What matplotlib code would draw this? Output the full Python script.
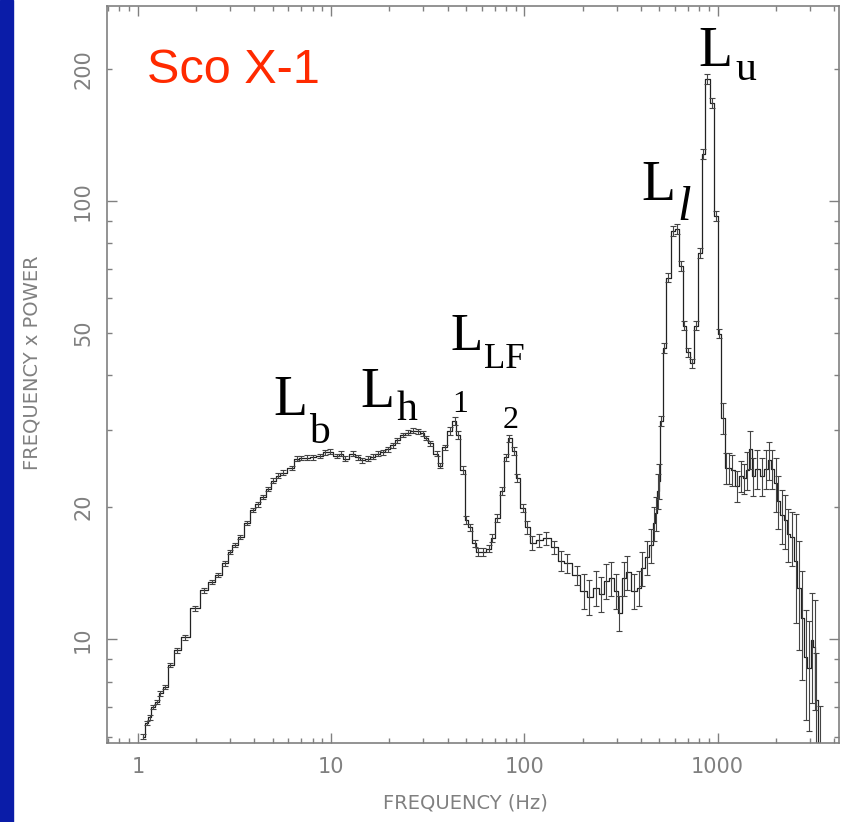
import numpy as np
import matplotlib.pyplot as plt
from matplotlib.ticker import FixedLocator, FixedFormatter, NullFormatter
from matplotlib.patches import Rectangle

# power spectrum of Sco X-1 (frequency x power)
freq = [1.06, 1.11, 1.15, 1.195, 1.25, 1.30, 1.38, 1.46, 1.59, 1.75,
        1.97, 2.19, 2.41, 2.59, 2.82, 2.99, 3.17, 3.37, 3.66, 3.93,
        4.17, 4.43, 4.7, 4.99, 5.3, 5.61, 6.25, 6.63, 7.0, 7.47,
        8.0, 8.72, 9.3, 9.82, 10.67, 11.2, 11.74, 12.9, 13.7, 14.5,
        15.4, 16.4, 17.4, 18.5, 19.6, 20.8, 22.0, 23.4, 24.9, 26.4,
        28.0, 29.7, 31.0, 32.3, 35.1, 36.4, 38.6, 41.0, 43.5, 45.1,
        47.8, 50.1, 52.0, 55.2, 57.2, 60.7, 65.9, 68.3, 72.5, 76.9,
        80.7, 83.6, 88.7, 92.0, 97.7, 103.6, 110, 119.5, 130, 143,
        155, 167, 186, 204, 217, 236, 250, 265, 282, 299,
        310, 329, 341, 370, 393, 407, 432, 453, 470, 481,
        493, 499, 511, 529, 555, 589, 618, 648, 671, 704,
        738, 774, 812, 842, 883, 937, 982, 1018, 1068, 1107,
        1147, 1188, 1262, 1322, 1371, 1421, 1472, 1526, 1600, 1698,
        1781, 1846, 1913, 2006, 2054, 2154, 2233, 2313, 2425, 2545,
        2637, 2735, 2867, 2972, 3080, 3190, 3230, 3390]
power = [6.0, 6.44, 6.64, 7.0, 7.19, 7.53, 7.78, 8.73, 9.44, 10.1,
         11.77, 12.93, 13.5, 14.0, 14.9, 15.8, 16.4, 17.1, 18.4, 19.7,
         20.3, 21.1, 22.0, 23.0, 23.6, 24.0, 24.6, 25.8, 25.9, 25.95,
         26.0, 26.2, 26.7, 26.8, 26.2, 26.5, 25.8, 26.5, 26.0, 25.6,
         25.8, 26.1, 26.5, 26.7, 27.1, 27.7, 28.4, 29.2, 29.6, 29.9,
         29.8, 29.5, 28.8, 27.96, 26.5, 24.9, 27.4, 29.9, 31.5, 29.2,
         24.3, 18.7, 18.0, 16.55, 15.8, 15.8, 16.1, 17.0, 18.9, 21.8,
         26.0, 28.7, 26.9, 23.3, 19.9, 18.0, 16.6, 16.8, 17.0, 16.2,
         15.1, 14.9, 14.0, 12.9, 12.5, 13.1, 12.7, 13.6, 13.8, 12.9,
         11.5, 13.8, 14.2, 12.9, 13.1, 14.5, 15.4, 16.4, 18.4, 19.4,
         21.8, 23.0, 31.5, 46.2, 66.8, 85.4, 86.3, 71.1, 51.9, 45.1,
         42.6, 51.9, 76.1, 127.9, 189.7, 167.2, 92.4, 49.8, 32.0, 24.6,
         24.6, 24.3, 22.4, 23.6, 23.3, 24.3, 27.2, 23.6, 24.5, 23.6,
         24.5, 25.6, 24.5, 22.7, 20.7, 19.2, 18.7, 17.4, 17.1, 15.1,
         13.1, 11.2, 9.1, 8.6, 9.95, 9.6, 7.26, 5.5]
# relative size of the error bars, by frequency band
err_band_hz = [40, 100, 150, 200, 500, 1050, 1400, 2000, 2500]
err_frac = [0.012, 0.02, 0.035, 0.05, 0.09, 0.025, 0.08, 0.10, 0.14, 0.28]

freq = np.array(freq)
power = np.array(power)
rel = np.array(err_frac)[np.searchsorted(err_band_hz, freq)]
yerr = power * rel

fig = plt.figure(figsize=(8.43, 8.22), dpi=100)
ax = fig.add_axes([107/843, 1 - 743/822, 732/843, 737/822])

# blue strip on the left edge
fig.patches.append(Rectangle((0, 0), 13/843, 1, transform=fig.transFigure,
                             color='#0a1ca8', zorder=0))

ax.step(freq, power, where='mid', color='#222222', lw=0.9)
ax.errorbar(freq, power, yerr=yerr, fmt='none', ecolor='#444444',
            elinewidth=0.8, capsize=2.2, capthick=0.8)

ax.set_xscale('log')
ax.set_yscale('log')
ax.set_xlim(0.69, 4250)
ax.set_ylim(5.8, 278)

gray = '#808080'
for s in ax.spines.values():
    s.set_color(gray)
    s.set_linewidth(1.2)

ax.xaxis.set_major_locator(FixedLocator([1, 10, 100, 1000]))
ax.xaxis.set_major_formatter(FixedFormatter(['1', '10', '100', '1000']))
xminor = [m * d for d in [0.1, 1, 10, 100, 1000] for m in range(2, 10)]
ax.xaxis.set_minor_locator(FixedLocator(xminor))
ax.xaxis.set_minor_formatter(NullFormatter())

ax.yaxis.set_major_locator(FixedLocator([10, 100]))
ax.yaxis.set_major_formatter(FixedFormatter(['10', '100']))
yminor = [6, 7, 8, 9, 20, 30, 40, 50, 60, 70, 80, 90, 200]
ax.yaxis.set_minor_locator(FixedLocator(yminor))
ax.yaxis.set_minor_formatter(FixedFormatter(['', '', '', '', '20', '', '', '50',
                                             '', '', '', '', '200']))

ax.tick_params(which='both', direction='in', top=True, right=True,
               color=gray, width=1, labelcolor=gray, labelsize=15)
ax.tick_params(which='major', length=7.5)
ax.tick_params(which='minor', length=3.8)
ax.tick_params(axis='x', which='both', pad=10)
ax.tick_params(axis='y', which='both', pad=10)
for lab in ax.get_yticklabels(which='both'):
    lab.set_rotation(90)
    lab.set_va('center')

fig.text(465/843, 1 - 803/822, 'FREQUENCY (Hz)', color=gray, fontsize=14,
         ha='center', va='center')
fig.text(32/843, 1 - 363/822, 'FREQUENCY x POWER', color=gray, fontsize=14,
         ha='center', va='center', rotation=90)


def px(x, y):
    return (x - 107) / 732, (743 - y) / 737


ax.text(*px(147, 83), 'Sco X-1', transform=ax.transAxes,
        color='#ff2a00', fontsize=35, family='Liberation Sans', va='baseline')

serif = 'Liberation Serif'
# (text, left x px, baseline y px, size, style)
labels = [('L', 273, 415, 40, 'normal'), ('b', 309, 443, 30, 'normal'),
          ('L', 360, 407, 40, 'normal'), ('h', 397, 420, 30, 'normal'),
          ('L', 450, 350, 38, 'normal'), ('LF', 484, 368, 25, 'normal'),
          ('1', 452, 412, 23, 'normal'), ('2', 503, 428, 23, 'normal'),
          ('L', 641, 200, 40, 'normal'), ('l', 677, 220, 35, 'italic'),
          ('L', 698, 66, 40, 'normal'), ('u', 735, 80, 30, 'normal')]
for t, x, y, s, st in labels:
    ax.text(*px(x, y), t, transform=ax.transAxes, fontsize=s, family=serif,
            style=st, ha='left', va='baseline', color='black')

fig.savefig('out.png', dpi=100)
